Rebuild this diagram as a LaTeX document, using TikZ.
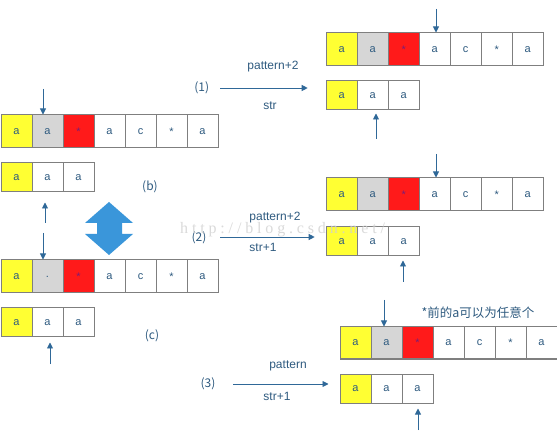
\documentclass[tikz,border=0pt]{standalone}
\usepackage{fontspec}
\setmainfont{Liberation Sans}
\newfontfamily\cjk{Noto Sans CJK SC}
\newfontfamily\wmfont[LetterSpace=24]{Liberation Serif}
\usetikzlibrary{arrows.meta}
\definecolor{cy}{HTML}{FFFF33}
\definecolor{cg}{HTML}{D6D6D6}
\definecolor{cr}{HTML}{FF1A1A}
\definecolor{cw}{HTML}{FFFFFF}
\definecolor{bd}{HTML}{7F7F7F}
\definecolor{tx}{HTML}{2F5B80}
\definecolor{starcol}{HTML}{7A1E78}
\definecolor{ar}{HTML}{2F6898}
\definecolor{blk}{HTML}{3A96DA}
\newcommand{\sta}{\raisebox{-0.33em}{*}}
\tikzset{
 cell/.style={draw=bd, line width=1pt, minimum width=31pt, inner sep=0pt, text=tx,
   font=\fontsize{11}{11}\selectfont, anchor=west},
 arr/.style={draw=ar, line width=0.9pt, -{Triangle[length=6pt,width=6pt]}},
 lbl/.style={text=tx, font=\fontsize{12}{12}\selectfont, inner sep=0pt},
 num/.style={text=tx, font=\cjk\fontsize{12}{12}\selectfont, inner sep=0pt},
}
\newcommand{\mkrow}[5]{%
 \foreach \t/\f/\c [count=\i] in {#5} {
   \node[cell, fill=\f, text=\c, minimum height=#4pt] (#1-\i) at ({#2+(\i-1)*31}, #3) {\t};
 }
}
\begin{document}
\begin{tikzpicture}[x=1pt,y=-1pt]
\useasboundingbox (0,0) rectangle (557,438);
\fill[white] (0,0) rectangle (557,438);
% left column
\mkrow{L1}{0.5}{131.5}{33}{a/cy/tx, a/cg/tx, \sta/cr/starcol, a/cw/tx, c/cw/tx, \sta/cw/tx, a/cw/tx}
\mkrow{L2}{0.5}{177.5}{29}{a/cy/tx, a/cw/tx, a/cw/tx}
\mkrow{L3}{0.5}{276.5}{33}{a/cy/tx, ./cg/tx, \sta/cr/starcol, a/cw/tx, c/cw/tx, \sta/cw/tx, a/cw/tx}
\mkrow{L4}{0.5}{322.5}{29}{a/cy/tx, a/cw/tx, a/cw/tx}
% right column
\mkrow{R1}{325.7}{49.5}{33}{a/cy/tx, a/cg/tx, \sta/cr/starcol, a/cw/tx, c/cw/tx, \sta/cw/tx, a/cw/tx}
\mkrow{R2}{325.7}{95.5}{29}{a/cy/tx, a/cw/tx, a/cw/tx}
\mkrow{R3}{325.7}{194.5}{33}{a/cy/tx, a/cg/tx, \sta/cr/starcol, a/cw/tx, c/cw/tx, \sta/cw/tx, a/cw/tx}
\mkrow{R4}{325.7}{241.5}{29}{a/cy/tx, a/cw/tx, a/cw/tx}
\mkrow{R5}{339.5}{343}{32}{a/cy/tx, a/cg/tx, \sta/cr/starcol, a/cw/tx, c/cw/tx, \sta/cw/tx, a/cw/tx}
\mkrow{R6}{339.5}{388.5}{29}{a/cy/tx, a/cw/tx, a/cw/tx}
% pointer arrows
\coordinate (aL1) at (43,89);
\draw[arr] (aL1) -- (aL1 |- L1-2.north);
\coordinate (aL2) at (45,223);
\draw[arr] (aL2) -- ([yshift=-10pt]aL2 |- L2-2.south);
\coordinate (aL3) at (43,233);
\draw[arr] (aL3) -- (aL3 |- L3-2.north);
\coordinate (aL4) at (50,364);
\draw[arr] (aL4) -- ([yshift=-5pt]aL4 |- L4-2.south);
\coordinate (aR1) at (436,9);
\draw[arr] (aR1) -- (aR1 |- R1-4.north);
\coordinate (aR2) at (376,139);
\draw[arr] (aR2) -- ([yshift=-3pt]aR2 |- R2-2.south);
\coordinate (aR3) at (436,154);
\draw[arr] (aR3) -- (aR3 |- R3-4.north);
\coordinate (aR4) at (403,282);
\draw[arr] (aR4) -- ([yshift=-4pt]aR4 |- R4-3.south);
\coordinate (aR5) at (384,300);
\draw[arr] (aR5) -- (aR5 |- R5-2.north);
\coordinate (aR6) at (418,430);
\draw[arr] (aR6) -- ([yshift=-5pt]aR6 |- R6-3.south);
% step labels and arrows
\node[num] (n1) at (201.7,88) {(1)};
\node[num] (n2) at (199,238) {(2)};
\node[num] (n3) at (208,384) {(3)};
\node[num] (nb) at (150,187) {(b)};
\node[num] (nc) at (152,336) {(c)};
\coordinate (h1) at (220,88);
\draw[arr] (h1) -- ([xshift=-18pt]h1 -| R2-1.west);
\coordinate (h2) at (220,237);
\draw[arr] (h2) -- ([xshift=-11pt]h2 -| R4-1.west);
\coordinate (h3) at (233,384);
\draw[arr] (h3) -- ([xshift=-11pt]h3 -| R6-1.west);
\node[lbl] (p1) at (273,67) {pattern+2};
\node[lbl] (s1) at (270,106) {str};
\node[lbl] (p2) at (275,218) {pattern+2};
\node[lbl] (s2) at (263,247) {str+1};
\node[lbl] (p3) at (288,366) {pattern};
\node[lbl] (s3) at (277,396) {str+1};
\node[num, font=\cjk\fontsize{12.5}{12.5}\selectfont] (note) at (478,313) {*前的a可以为任意个};
% block double arrow
\fill[blk] (109,202) -- (133,223) -- (122,223) -- (122,234) -- (133,234) -- (109,255)
  -- (85,234) -- (97,234) -- (97,223) -- (85,223) -- cycle;
% watermark
\node[font=\wmfont\fontsize{16}{16}\selectfont, text=black!18, anchor=west, inner sep=0pt, opacity=0.8] (wm) at (180,230) {http://blog.csdn.net/};
\end{tikzpicture}
\end{document}
